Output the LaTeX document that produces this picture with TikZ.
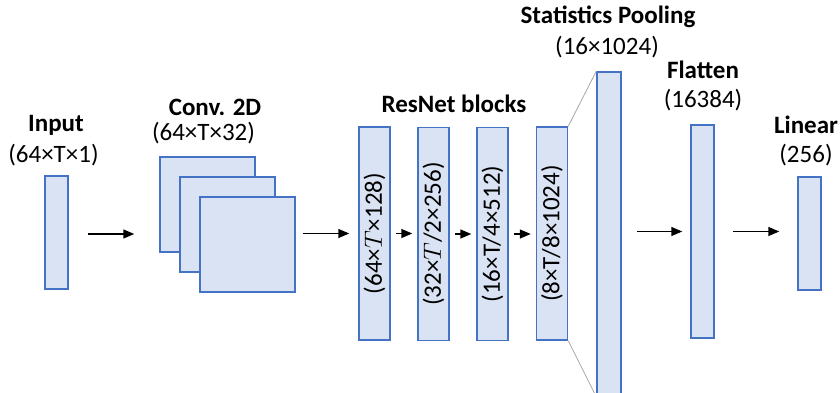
\documentclass[tikz,border=0pt]{standalone}
\usepackage{fontspec}
\setmainfont{Carlito}
\usetikzlibrary{arrows.meta}
\definecolor{boxfill}{HTML}{DAE3F3}
\definecolor{boxline}{HTML}{4472C4}
\tikzset{
  layer/.style={draw=boxline, fill=boxfill, line width=1.5pt, inner sep=0pt},
  arr/.style={line width=1.5pt, -{Triangle[length=11pt,width=9pt]}},
  txt/.style={inner sep=0pt, font=\fontsize{25}{29}\selectfont},
  ttl/.style={txt, font=\fontsize{25}{29}\selectfont\bfseries}
}
\begin{document}
\begin{tikzpicture}[x=1pt,y=-1pt]
  \clip (0,0) rectangle (840,393);
  \useasboundingbox (0,0) rectangle (840,393);

  % Input
  \node[layer, minimum width=23pt, minimum height=113pt] (in) at (56.5,232.5) {};
  \node[ttl] (inT) at (56,125) {Input};
  \node[txt] (inD) at (53.5,155) {(64×T×1)};

  % Conv. 2D feature maps
  \node[layer, minimum width=95pt, minimum height=95pt] (conv1) at (207.5,204.5) {};
  \node[layer, minimum width=95pt, minimum height=95pt] (conv2) at (227.5,224.5) {};
  \node[layer, minimum width=95pt, minimum height=95pt] (conv3) at (247.5,244.5) {};
  \node[ttl] (convT) at (215,107) {Conv. 2D};
  \node[txt] (convD) at (203.5,133) {(64×T×32)};

  % ResNet blocks
  \node[layer, minimum width=31pt, minimum height=213pt] (r1) at (374.5,233.5) {};
  \node[layer, minimum width=31pt, minimum height=213pt] (r2) at (433.5,234) {};
  \node[layer, minimum width=31pt, minimum height=213pt] (r3) at (492.5,234) {};
  \node[layer, minimum width=31pt, minimum height=213pt] (r4) at (552,233.5) {};
  \node[txt, rotate=90] (r1D) at (r1) {(64×$T$×128)};
  \node[txt, rotate=90] (r2D) at (r2) {(32×$T$/2×256)};
  \node[txt, rotate=90] (r3D) at (r3) {(16×T/4×512)};
  \node[txt, rotate=90] (r4D) at (r4) {(8×T/8×1024)};
  \node[ttl] (resT) at (454,104) {ResNet blocks};

  % Statistics pooling
  \node[layer, minimum width=24pt, minimum height=324pt] (pool) at (609,234) {};
  \draw[gray!70, line width=0.8pt] (r4.north east) -- (pool.north west);
  \draw[gray!70, line width=0.8pt] (r4.south east) -- (pool.south west);
  \node[ttl] (poolT) at (608,17) {Statistics Pooling};
  \node[txt] (poolD) at (607,47) {(16×1024)};

  % Flatten
  \node[layer, minimum width=23pt, minimum height=213pt] (flat) at (702.5,231.5) {};
  \node[ttl] (flatT) at (703,70) {Flatten};
  \node[txt] (flatD) at (703,100) {(16384)};

  % Linear
  \node[layer, minimum width=23pt, minimum height=113pt] (lin) at (809.5,233.5) {};
  \node[ttl] (linT) at (806,125) {Linear};
  \node[txt] (linD) at (806,155) {(256)};

  % Arrows
  \draw[arr, shorten <=19pt, shorten >=25pt] ([yshift=-1.5pt]in.east) -- ([yshift=-1.5pt]in.east -| conv1.west);
  \draw[arr, shorten <=7pt, shorten >=9pt] (conv3.east |- r1.west) -- (r1.west);
  \draw[arr, shorten <=5pt, shorten >=5pt] (r1.east) -- (r1.east -| r2.west);
  \draw[arr, shorten <=5pt, shorten >=5pt] (r2.east) -- (r2.east -| r3.west);
  \draw[arr, shorten <=5pt, shorten >=5pt] (r3.east) -- (r3.east -| r4.west);
  \draw[arr, shorten <=15pt, shorten >=8pt] (pool.east |- flat.west) -- (flat.west);
  \draw[arr, shorten <=18pt, shorten >=18pt] (flat.east) -- (flat.east -| lin.west);
\end{tikzpicture}
\end{document}
